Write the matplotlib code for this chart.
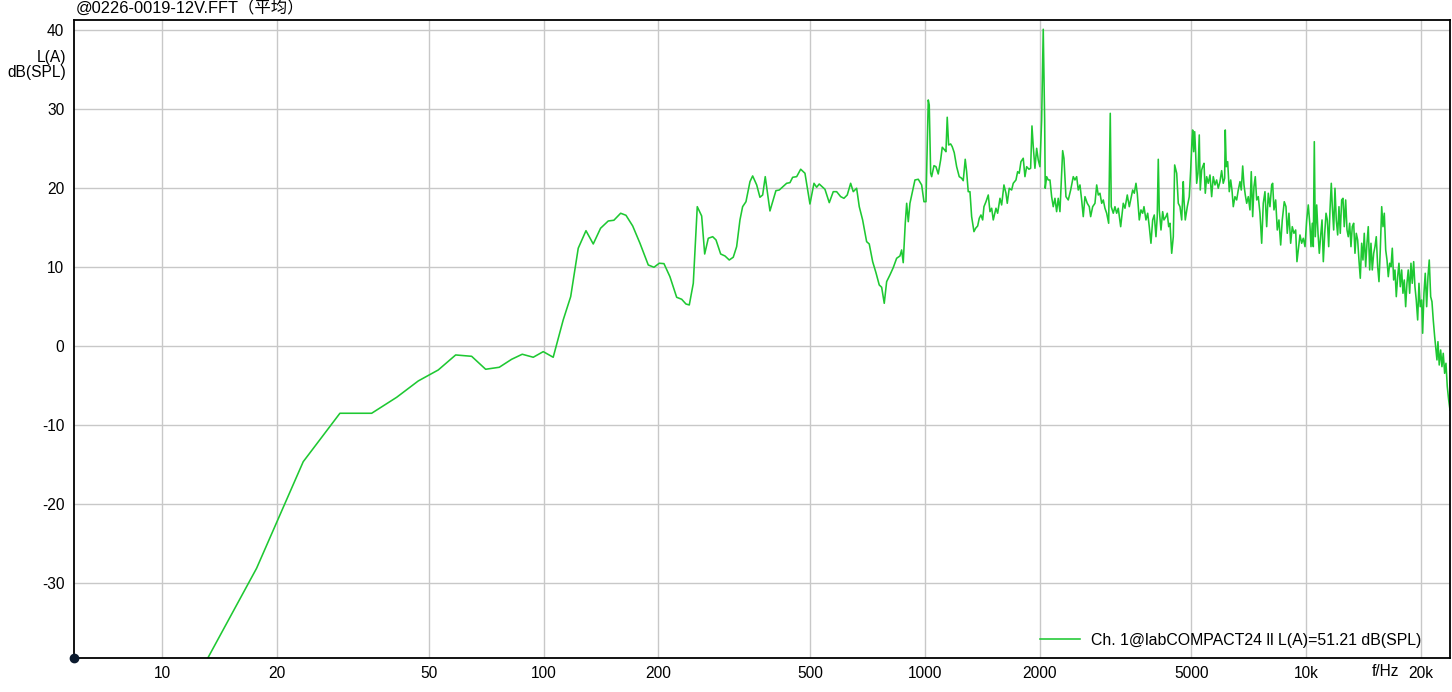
import matplotlib
matplotlib.use("Agg")
import matplotlib.pyplot as plt
from matplotlib.ticker import FixedLocator, NullLocator
import numpy as np

plt.rcParams['font.family'] = ['Liberation Sans', 'Noto Sans CJK SC', 'DejaVu Sans']

title_text = "@0226-0019-12V.FFT（平均）"
y_label = "L(A)\ndB(SPL)"
x_unit = "f/Hz"
legend_label = "Ch. 1@labCOMPACT24 ll L(A)=51.21 dB(SPL)"

x_ticks = [10, 20, 50, 100, 200, 500, 1000, 2000, 5000, 10000, 20000]
x_tick_labels = ["10", "20", "50", "100", "200", "500", "1000", "2000", "5000", "10k", "20k"]
y_ticks = [-30, -20, -10, 0, 10, 20, 30, 40]
y_tick_labels = ["-30", "-20", "-10", "0", "10", "20", "30", "40"]
x_range = (5.87, 23830)
y_range = (-39.46, 41.30)

# ---- low frequency part ----
freq_low = [11.8, 17.68, 23.43, 29.24, 35.42, 41.19, 46.93, 52.95, 58.82, 64.78,
            70.49, 76.53, 82.46, 87.93, 93.97, 99.82, 106.0, 112.6, 117.8, 123.3,
            129.2, 135.0, 141.1, 147.8, 152.9, 159.3, 164.5, 171.3, 179.0, 188.2,
            194.8, 201.1, 206.9, 214.5, 223.4, 230.3, 236.3, 241.1, 247.0, 253.0,
            259.8, 264.6, 270.4, 277.7, 283.3, 291.4, 299.1, 306.9]
level_low = [-43.7, -28.10, -14.61, -8.48, -8.48, -6.46, -4.39, -3.00, -1.10, -1.27,
             -2.91, -2.66, -1.65, -1.01, -1.39, -0.68, -1.39, 3.33, 6.28, 12.41,
             14.63, 12.95, 14.94, 15.86, 15.95, 16.84, 16.58, 15.23, 13.04, 10.29,
             10.00, 10.51, 10.46, 8.81, 6.20, 5.95, 5.35, 5.23, 7.97, 17.67,
             16.49, 11.68, 13.67, 13.87, 13.46, 11.68, 11.43, 10.92]

# ---- mid frequency part ----
freq_mid = [314.4, 320.9, 327.4, 332.7, 339.5, 347.8, 353.5, 362.2, 369.4, 375.5,
            381.4, 392.4, 406.8, 415.1, 434.0, 442.8, 450.1, 461.1, 472.4, 484.8,
            499.6, 511.9, 520.2, 528.4, 547.0, 561.4, 575.1, 587.0, 601.4, 613.4,
            625.8, 638.8, 648.9, 662.3, 672.9, 686.7, 703.5, 714.7, 729.6, 744.2,
            759.2, 770.3, 782.5, 793.9, 809.8, 826.1, 843.3, 860.3, 869.1, 877.5,
            888.3, 895.9, 904.6, 913.8]
level_mid = [11.27, 12.61, 15.99, 17.67, 18.30, 20.84, 21.56, 20.42, 18.86, 19.15,
             21.47, 17.13, 19.70, 19.78, 20.63, 20.71, 21.39, 21.47, 22.41, 21.90,
             18.01, 20.63, 20.13, 20.54, 19.87, 18.18, 19.57, 19.57, 18.94, 18.73,
             19.15, 20.63, 19.57, 20.00, 17.67, 15.99, 13.24, 12.95, 10.71, 9.32,
             7.76, 7.47, 5.44, 8.18, 9.03, 9.95, 11.14, 11.43, 12.19, 10.58,
             15.57, 18.10, 15.77, 18.10]

# ---- 1 kHz .. 2.3 kHz ----
freq_k1 = [941.9, 960.9, 980.8, 994.5, 1006.7, 1020.7, 1026.8, 1035.6, 1041.8, 1056.5,
           1069.2, 1084.1, 1099.9, 1110.6, 1126.8, 1135.6, 1144.5, 1154.3, 1168.4, 1179.5,
           1194.0, 1211.5, 1230.6, 1248.6, 1260.7, 1275.9, 1286.8, 1299.3, 1312.9, 1326.3,
           1345.0, 1358.8, 1375.4, 1388.8, 1403.0, 1417.6, 1428.7, 1446.3, 1466.4, 1481.7,
           1496.8, 1511.3, 1536.2, 1551.8, 1573.8, 1589.8, 1612.0, 1631.8, 1644.6, 1664.4,
           1688.7, 1705.1, 1733.2, 1750.9, 1767.9, 1786.3, 1811.2, 1830.0, 1848.7, 1874.8,
           1893.9, 1909.2, 1924.2, 1943.8, 1964.0, 1983.0, 2003.2, 2024.1, 2043.7, 2061.2,
           2068.4, 2086.1, 2106.4, 2128.3, 2150.0, 2170.9, 2193.5, 2215.8, 2237.3]
level_k1 = [21.05, 21.14, 20.42, 18.30, 18.30, 31.18, 30.54, 21.90, 21.47, 22.86,
            22.73, 21.81, 23.58, 25.19, 24.85, 24.63, 28.99, 25.48, 25.61, 25.27,
            24.51, 22.73, 21.47, 21.27, 20.96, 23.67, 22.10, 19.57, 19.57, 16.41,
            14.51, 14.94, 15.23, 16.20, 16.62, 15.99, 17.67, 18.30, 19.15, 17.04,
            17.47, 15.99, 17.47, 16.84, 18.73, 17.89, 20.42, 19.37, 18.10, 20.00,
            19.78, 20.63, 21.05, 22.10, 21.90, 23.37, 23.80, 21.47, 22.73, 22.41,
            22.53, 27.89, 25.27, 22.53, 25.06, 23.58, 22.73, 28.65, 40.13, 28.65,
            20.00, 21.47, 21.05, 21.05, 18.94, 17.67, 18.73, 17.04, 18.73]

# ---- 2.3 kHz .. 4.8 kHz ----
freq_k2 = [2260.6, 2297.9, 2315.9, 2344.0, 2377.1, 2411.8, 2449.9, 2474.8, 2500.6, 2524.9,
           2551.2, 2577.2, 2602.3, 2629.4, 2666.0, 2698.7, 2721.2, 2754.6, 2793.0, 2822.1,
           2849.5, 2878.5, 2908.5, 2936.8, 2966.7, 2997.6, 3033.7, 3063.2, 3081.6, 3119.4,
           3151.2, 3184.0, 3215.0, 3262.0, 3313.5, 3348.0, 3394.6, 3436.3, 3464.9, 3507.4,
           3541.5, 3577.6, 3605.7, 3650.0, 3687.2, 3725.6, 3754.9, 3800.1, 3839.7, 3877.0,
           3916.5, 3957.3, 3995.7, 4036.4, 4068.1, 4093.4, 4118.0, 4160.9, 4203.3, 4236.3,
           4288.3, 4322.0, 4359.0, 4393.3, 4439.0, 4482.1, 4519.4, 4574.9, 4619.4, 4666.4,
           4715.0, 4760.8]
level_k2 = [17.04, 24.76, 23.80, 18.94, 18.52, 19.78, 21.47, 21.05, 21.47, 19.78,
            20.42, 18.52, 16.41, 18.94, 18.10, 17.67, 16.41, 17.67, 18.10, 20.42,
            19.15, 19.37, 18.10, 18.52, 17.47, 16.84, 15.57, 29.49, 17.67, 16.84,
            17.67, 16.84, 17.47, 15.14, 18.10, 17.47, 19.15, 17.67, 18.52, 19.78,
            19.37, 20.63, 19.37, 15.99, 17.26, 16.84, 17.67, 15.99, 16.84, 15.14,
            13.04, 15.99, 16.62, 13.87, 16.41, 23.67, 17.26, 14.72, 17.04, 15.99,
            16.41, 16.84, 15.14, 15.57, 11.77, 13.87, 22.95, 21.90, 18.10, 17.67,
            15.99, 20.84]

# ---- 4.8 kHz .. 9.5 kHz ----
freq_k3 = [4780.6, 4818.2, 4877.3, 4936.0, 4978.3, 5017.4, 5038.2, 5069.6, 5100.0, 5130.7,
           5161.5, 5202.0, 5243.0, 5274.5, 5319.6, 5351.5, 5394.8, 5437.2, 5482.5, 5535.8,
           5593.4, 5650.4, 5705.3, 5764.7, 5823.4, 5880.0, 5941.2, 6001.7, 6060.0, 6111.9,
           6134.4, 6171.2, 6224.0, 6284.5, 6338.3, 6388.1, 6438.3, 6503.9, 6571.6, 6635.5,
           6704.6, 6757.3, 6815.1, 6868.6, 6922.6, 6981.8, 7049.7, 7121.4, 7177.4, 7238.8,
           7295.7, 7353.0, 7415.9, 7488.0, 7564.2, 7643.0, 7717.3, 7795.9, 7877.1, 7953.6,
           8034.6, 8118.3, 8167.0, 8231.2, 8317.0, 8397.8, 8483.3, 8571.7, 8655.0, 8759.2,
           8850.5, 8920.0, 9011.0, 9104.8, 9193.3, 9287.0, 9383.7, 9457.4]
level_k3 = [18.52, 15.99, 17.67, 18.94, 22.32, 26.11, 27.38, 24.63, 27.16, 24.43,
            20.63, 21.90, 26.75, 19.78, 22.32, 22.73, 23.16, 19.37, 21.47, 20.63,
            21.68, 18.94, 21.47, 20.42, 21.05, 20.00, 20.84, 22.23, 20.63, 21.27,
            27.38, 22.73, 23.37, 19.57, 21.05, 19.78, 17.67, 18.94, 18.52, 19.78,
            20.84, 19.78, 22.82, 20.42, 19.15, 18.10, 18.94, 17.26, 22.10, 16.41,
            20.20, 21.47, 18.52, 18.94, 16.84, 13.04, 18.10, 19.57, 15.14, 19.37,
            17.67, 20.42, 20.63, 17.26, 18.52, 14.72, 15.99, 12.82, 15.99, 18.30,
            17.67, 14.30, 16.84, 13.04, 15.14, 14.30, 14.72, 10.71]

# ---- 9.6 kHz .. 24 kHz ----
freq_k4 = [9632, 9730, 9826, 9929, 10030, 10127, 10233, 10294, 10375, 10438,
           10502, 10565, 10655, 10740, 10824, 10917, 11003, 11089, 11184, 11272,
           11361, 11455, 11546, 11636, 11708, 11805, 11898, 11992, 12093, 12188,
           12284, 12389, 12486, 12584, 12691, 12794, 12893, 13002, 13105, 13208,
           13321, 13426, 13531, 13645, 13752, 13863, 13979, 14089, 14200, 14321,
           14434, 14547, 14672, 14787, 14903, 15031, 15149, 15268, 15399, 15520,
           15642, 15776, 15900, 16025, 16162, 16289, 16417, 16557, 16687, 16818,
           16958, 17092, 17229, 17372, 17509, 17650, 17797, 17937, 18081, 18232,
           18375, 18520, 18678, 18825, 18973, 19135, 19285, 19437, 19603, 19757,
           19912, 20082, 20203, 20362, 20522, 20698, 20860, 21024, 21204, 21370,
           21538, 21722, 21893, 22025, 22157, 22331, 22522, 22699, 22877, 23073,
           23255, 23442, 23640, 23830]
level_k4 = [14.09, 13.04, 13.67, 12.61, 15.99, 17.89, 15.14, 12.61, 15.57, 12.61,
            25.90, 13.87, 17.89, 14.30, 11.77, 14.09, 15.99, 10.71, 14.30, 16.84,
            15.99, 12.61, 17.28, 20.63, 17.67, 14.72, 20.00, 15.99, 14.09, 17.67,
            14.30, 18.52, 18.73, 15.14, 18.52, 14.72, 13.87, 15.57, 12.61, 15.14,
            15.57, 11.77, 14.30, 13.46, 10.92, 8.61, 13.04, 10.92, 14.30, 10.08,
            13.04, 15.14, 9.66, 13.04, 9.66, 11.77, 12.61, 13.87, 10.08, 8.18,
            12.19, 17.67, 15.14, 16.84, 12.19, 10.92, 8.81, 10.51, 10.08, 12.41,
            8.39, 9.66, 6.28, 8.81, 10.51, 7.54, 9.66, 6.71, 8.39, 5.01,
            7.97, 9.66, 6.71, 10.51, 7.97, 10.71, 7.54, 5.86, 3.33, 7.97,
            5.01, 5.86, 1.65, 6.71, 9.24, 5.01, 8.81, 10.92, 6.28, 5.65,
            3.33, 1.22, -0.47, -1.73, 0.58, -2.37, -0.47, -2.58, -0.89, -3.42,
            -2.15, -5.11, -6.80, -8.06]

freq = freq_low + freq_mid + freq_k1 + freq_k2 + freq_k3 + freq_k4
level = level_low + level_mid + level_k1 + level_k2 + level_k3 + level_k4

W, H = 1452, 692
fig = plt.figure(figsize=(W / 100, H / 100), dpi=100)
ax = fig.add_axes([74 / W, (H - 658) / H, (1450 - 74) / W, (658 - 20) / H])

line, = ax.plot(freq, level, color='#1ec832', linewidth=1.15, label=legend_label)
ax.set_xscale('log')
ax.set_xlim(*x_range)
ax.set_ylim(*y_range)

FS = 11.2
ax.xaxis.set_major_locator(FixedLocator(x_ticks))
ax.xaxis.set_minor_locator(NullLocator())
ax.set_xticklabels(x_tick_labels)
ax.set_yticks(y_ticks)
ax.set_yticklabels(y_tick_labels)
ax.tick_params(axis='both', length=0, labelsize=FS, colors='black')
ax.tick_params(axis='x', pad=6)
ax.tick_params(axis='y', pad=7)

ax.grid(True, which='major', color='#c8c8c8', linewidth=1.0)
ax.set_axisbelow(True)
for side in ['left', 'bottom', 'top', 'right']:
    ax.spines[side].set_color('black')
    ax.spines[side].set_linewidth(1.3)

# origin marker
ax.plot([0], [0], marker='o', markersize=6, color='#0b1a2e', transform=ax.transAxes,
        clip_on=False, zorder=5)

fig.text(76 / W, 1 - 8 / H, title_text, fontsize=11.8, ha='left', va='center')
fig.text(66 / W, 1 - 65 / H, y_label, fontsize=FS, ha='right', va='center',
         linespacing=1.0)
fig.text(1386 / W, 1 - 672 / H, x_unit, fontsize=FS, ha='center', va='center')

ax.legend(handles=[line], loc='center left', bbox_to_anchor=((1040 - 74) / 1376, 18 / 638),
          frameon=False, fontsize=11.4, handlelength=2.5, handletextpad=0.7,
          borderpad=0, borderaxespad=0)

fig.savefig('out.png', dpi=100)
